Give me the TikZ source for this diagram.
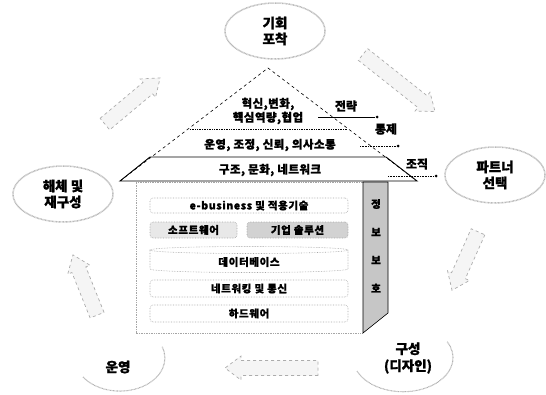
\documentclass[tikz,border=0pt]{standalone}
\usepackage{fontspec}
\setmainfont{Noto Sans CJK KR}[BoldFeatures={FakeBold=1.2}]
\usetikzlibrary{shapes.geometric}
\begin{document}
\begin{tikzpicture}[x=1pt,y=-1pt,font=\bfseries,
  cloud/.style={ellipse, draw=gray!55, line width=1.5pt, dash pattern=on 0.8pt off 0.6pt,
    fill=white, minimum width=100pt, minimum height=56pt, inner sep=0pt,
    align=center, font=\fontsize{13.5}{16}\selectfont\bfseries},
  arcline/.style={draw=gray!60, line width=1.1pt, dash pattern=on 0.8pt off 0.6pt},
  arrowline/.style={draw=gray!65, dashed, line width=0.7pt, fill=gray!8},
  inbox/.style={draw=gray!70, densely dotted, rounded corners=3pt, line width=0.6pt,
    inner sep=0pt, font=\fontsize{10.5}{12}\selectfont\bfseries\addfontfeatures{LetterSpace=6}},
  rooftext/.style={font=\fontsize{11.5}{14}\selectfont\bfseries\addfontfeatures{LetterSpace=4},
    align=center, inner sep=0pt},
  sidelabel/.style={font=\fontsize{12}{13}\selectfont\bfseries, inner sep=0pt},
  vlabel/.style={font=\fontsize{10.5}{12}\selectfont\bfseries, inner sep=0pt},
  leaddot/.style={circle, fill=black, inner sep=0pt, minimum size=3pt},
  pics/barrow/.style={code={
    \path[arrowline] (-#1/2,-7.5) -- (#1/2-16,-7.5) -- (#1/2-16,-12) -- (#1/2,0)
      -- (#1/2-16,12) -- (#1/2-16,7.5) -- (-#1/2,7.5) -- cycle;}}]
\useasboundingbox (0,0) rectangle (546,394);

% cycle arrows
\pic[rotate=39.9] (arrA) at (132.5,101) {barrow=72};
\pic[rotate=-38.4] (arrB) at (399,83) {barrow=92};
\pic[rotate=-114] (arrC) at (465,261) {barrow=64};
\pic[rotate=180] (arrD) at (271.5,368) {barrow=93};
\pic[rotate=111.8] (arrE) at (85,285) {barrow=65};

% stage ellipses
\node[cloud] (kihoe) at (275,31) {기회\\포착};
\node[cloud] (partner) at (495,175) {파트너\\선택};
\node[cloud] (haeche) at (63,194) {해체 및\\재구성};

% partial ellipses
\draw[arcline] (83,377) arc[start angle=145, end angle=-20, x radius=45, y radius=33];
\node[font=\fontsize{13.5}{16}\selectfont\bfseries] (unyoung) at (118,367) {운영};
\draw[arcline] (357,371) arc[start angle=157, end angle=-28, x radius=50, y radius=34];
\node[font=\fontsize{13.5}{17}\selectfont\bfseries, align=center] (guseong) at (408,358) {구성\\(디자인)};

% roof
\coordinate (apex) at (268,68);
\coordinate (bl) at (120,181);
\coordinate (br) at (417,181);
\coordinate (tl) at (150,157);
\coordinate (tr) at (386,157);
\coordinate (dl) at (190,129);
\coordinate (dr) at (347,129);
\draw[dashed, line width=0.6pt] (bl) -- (apex) -- (br);
\draw[line width=0.9pt] (tl) -- (bl) -- (br) -- (tr) -- cycle;
\draw[densely dotted, line width=0.7pt] (dl) -- (dr);

\node[rooftext] (t1) at (268,111) {혁신,변화,\\핵심역량,협업};
\node[rooftext] (t2) at (270,145) {운영, 조정, 신뢰, 의사소통};
\node[rooftext] (t3) at (270,170) {구조, 문화, 네트워크};

% leader labels
\node[sidelabel] (jeonryak) at (346,106) {전략};
\coordinate (j1) at (318,117);
\node[leaddot] (jd) at (377,117) {};
\draw[line width=0.6pt] (j1) -- (jd);
\node[sidelabel] (tongje) at (386,129) {통제};
\coordinate (k1) at (360,146);
\node[leaddot] (kd) at (398,146) {};
\draw[densely dotted, line width=0.6pt] (k1) -- (kd);
\node[sidelabel] (jojik) at (417,164) {조직};
\coordinate (m1) at (388,176);
\node[leaddot] (md) at (436,176) {};
\draw[densely dotted, line width=0.6pt] (m1) -- (md);

% body
\draw[draw=gray!70, densely dotted, line width=0.7pt] (363,182) -- (136,182) -- (136,333) -- (363,333);
\filldraw[fill=gray!45, draw=black, line width=0.6pt] (363,182) -- (388,182) -- (388,313) -- (363,333) -- cycle;
\node[vlabel] (v1) at (376,204) {정};
\node[vlabel] (v2) at (376,232) {보};
\node[vlabel] (v3) at (376,260) {보};
\node[vlabel] (v4) at (376,288) {호};

\node[inbox, minimum width=198pt, minimum height=15pt] (ebiz) at (249,205.5) {e-business 및 적용기술};
\node[inbox, fill=gray!18, minimum width=87pt, minimum height=16pt] (sw) at (193.5,230) {소프트웨어};
\node[inbox, fill=gray!35, minimum width=101pt, minimum height=16pt] (sol) at (297.5,230) {기업 솔루션};
\draw[draw=gray!70, densely dotted, line width=0.6pt] (150,250) -- (150,269)
  arc[start angle=180, end angle=0, x radius=99, y radius=3.5] -- (348,250);
\draw[draw=gray!70, densely dotted, line width=0.6pt] (249,250) ellipse[x radius=99, y radius=3.5];
\node[font=\fontsize{10.5}{12}\selectfont\bfseries\addfontfeatures{LetterSpace=6}, inner sep=0pt] (db) at (249,262) {데이터베이스};
\node[inbox, minimum width=198pt, minimum height=17pt] (net) at (249,288.5) {네트워킹 및 통신};
\node[inbox, minimum width=198pt, minimum height=17pt] (hw) at (249,313.5) {하드웨어};
\end{tikzpicture}
\end{document}
